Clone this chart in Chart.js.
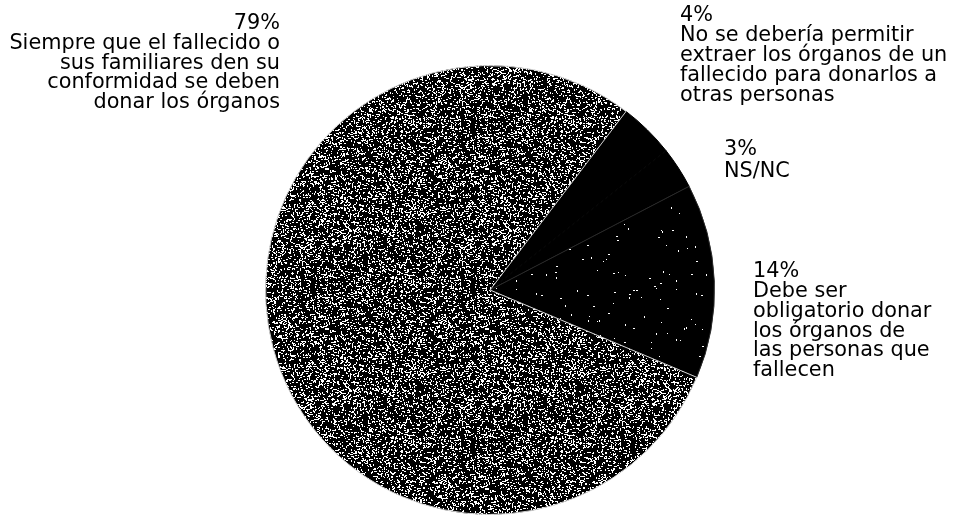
<!DOCTYPE html>
<html>
<head>
<meta charset="utf-8">
<script src="https://cdn.jsdelivr.net/npm/chart.js@4/dist/chart.umd.min.js"></script>
<style>
  html, body { margin: 0; padding: 0; background: #fff; }
  #wrap { width: 956px; height: 531px; }
</style>
</head>
<body>
<div id="wrap"><canvas id="pie" width="956" height="531"></canvas></div>
<script>
// Opinión sobre la donación de órganos (%)
const categories = [
  ['No se debería permitir', 'extraer los órganos de un', 'fallecido para donarlos a', 'otras personas'],
  ['NS/NC'],
  ['Debe ser', 'obligatorio donar', 'los órganos de', 'las personas que', 'fallecen'],
  ['Siempre que el fallecido o', 'sus familiares den su', 'conformidad se deben', 'donar los órganos']
];
const percentages = [4, 3, 14, 79];

// where each text block sits (first line centre) and how it aligns
const labelBoxes = [
  { x: 680, y: 14, align: 'left', lineHeight: 20 },
  { x: 724, y: 148, align: 'left', lineHeight: 22 },
  { x: 753, y: 270, align: 'left', lineHeight: 19.7 },
  { x: 280, y: 22, align: 'right', lineHeight: 19.6 }
];

// cheap integer hash, gives the printed stipple texture
function hash(x, y, seed) {
  let h = Math.imul(x, 374761393) + Math.imul(y, 668265263) + Math.imul(seed, 982451653);
  h = Math.imul(h ^ (h >>> 13), 1274126177);
  return ((h ^ (h >>> 16)) >>> 0) / 4294967296;
}

function stipple(density, seed) {
  const size = 160;
  const c = document.createElement('canvas');
  c.width = size; c.height = size;
  const g = c.getContext('2d');
  g.fillStyle = '#000';
  g.fillRect(0, 0, size, size);
  g.fillStyle = '#fff';
  for (let y = 0; y < size; y++) {
    for (let x = 0; x < size; x++) {
      const r = hash(x, y, seed);
      if (r < density) {
        // short 1-2px specks, some horizontal, some vertical
        const k = hash(y, x, seed + 7);
        if (k < 0.4) g.fillRect(x, y, 2, 1);
        else if (k < 0.7) g.fillRect(x, y, 1, 2);
        else g.fillRect(x, y, 1, 1);
      }
    }
  }
  return g.createPattern(c, 'repeat');
}

const ctx = document.getElementById('pie').getContext('2d');

const sliceLabels = {
  id: 'sliceLabels',
  afterDraw(chart) {
    const c = chart.ctx;
    const values = chart.data.datasets[0].data;
    c.save();
    c.fillStyle = '#000';
    c.font = '20.8px "DejaVu Sans", sans-serif';
    c.textBaseline = 'alphabetic';
    chart.data.labels.forEach((lines, i) => {
      const box = labelBoxes[i];
      c.textAlign = box.align;
      const all = [values[i] + '%'].concat(lines);
      all.forEach((t, j) => {
        c.fillText(t, box.x, box.y + j * box.lineHeight + 7.4);
      });
    });
    c.restore();
  }
};

new Chart(ctx, {
  type: 'pie',
  data: {
    labels: categories,
    datasets: [{
      data: percentages,
      backgroundColor: ['#000', '#000', stipple(0.004, 3), stipple(0.16, 11)],
      borderColor: ['#000', '#000', '#2a2a2a', '#cfcfcf'],
      borderWidth: 1
    }]
  },
  options: {
    responsive: false,
    animation: false,
    rotation: 37.3,
    layout: { padding: { left: 265, right: 241, top: 65, bottom: 16 } },
    plugins: {
      legend: { display: false },
      tooltip: { enabled: false }
    }
  },
  plugins: [sliceLabels]
});
</script>
</body>
</html>
